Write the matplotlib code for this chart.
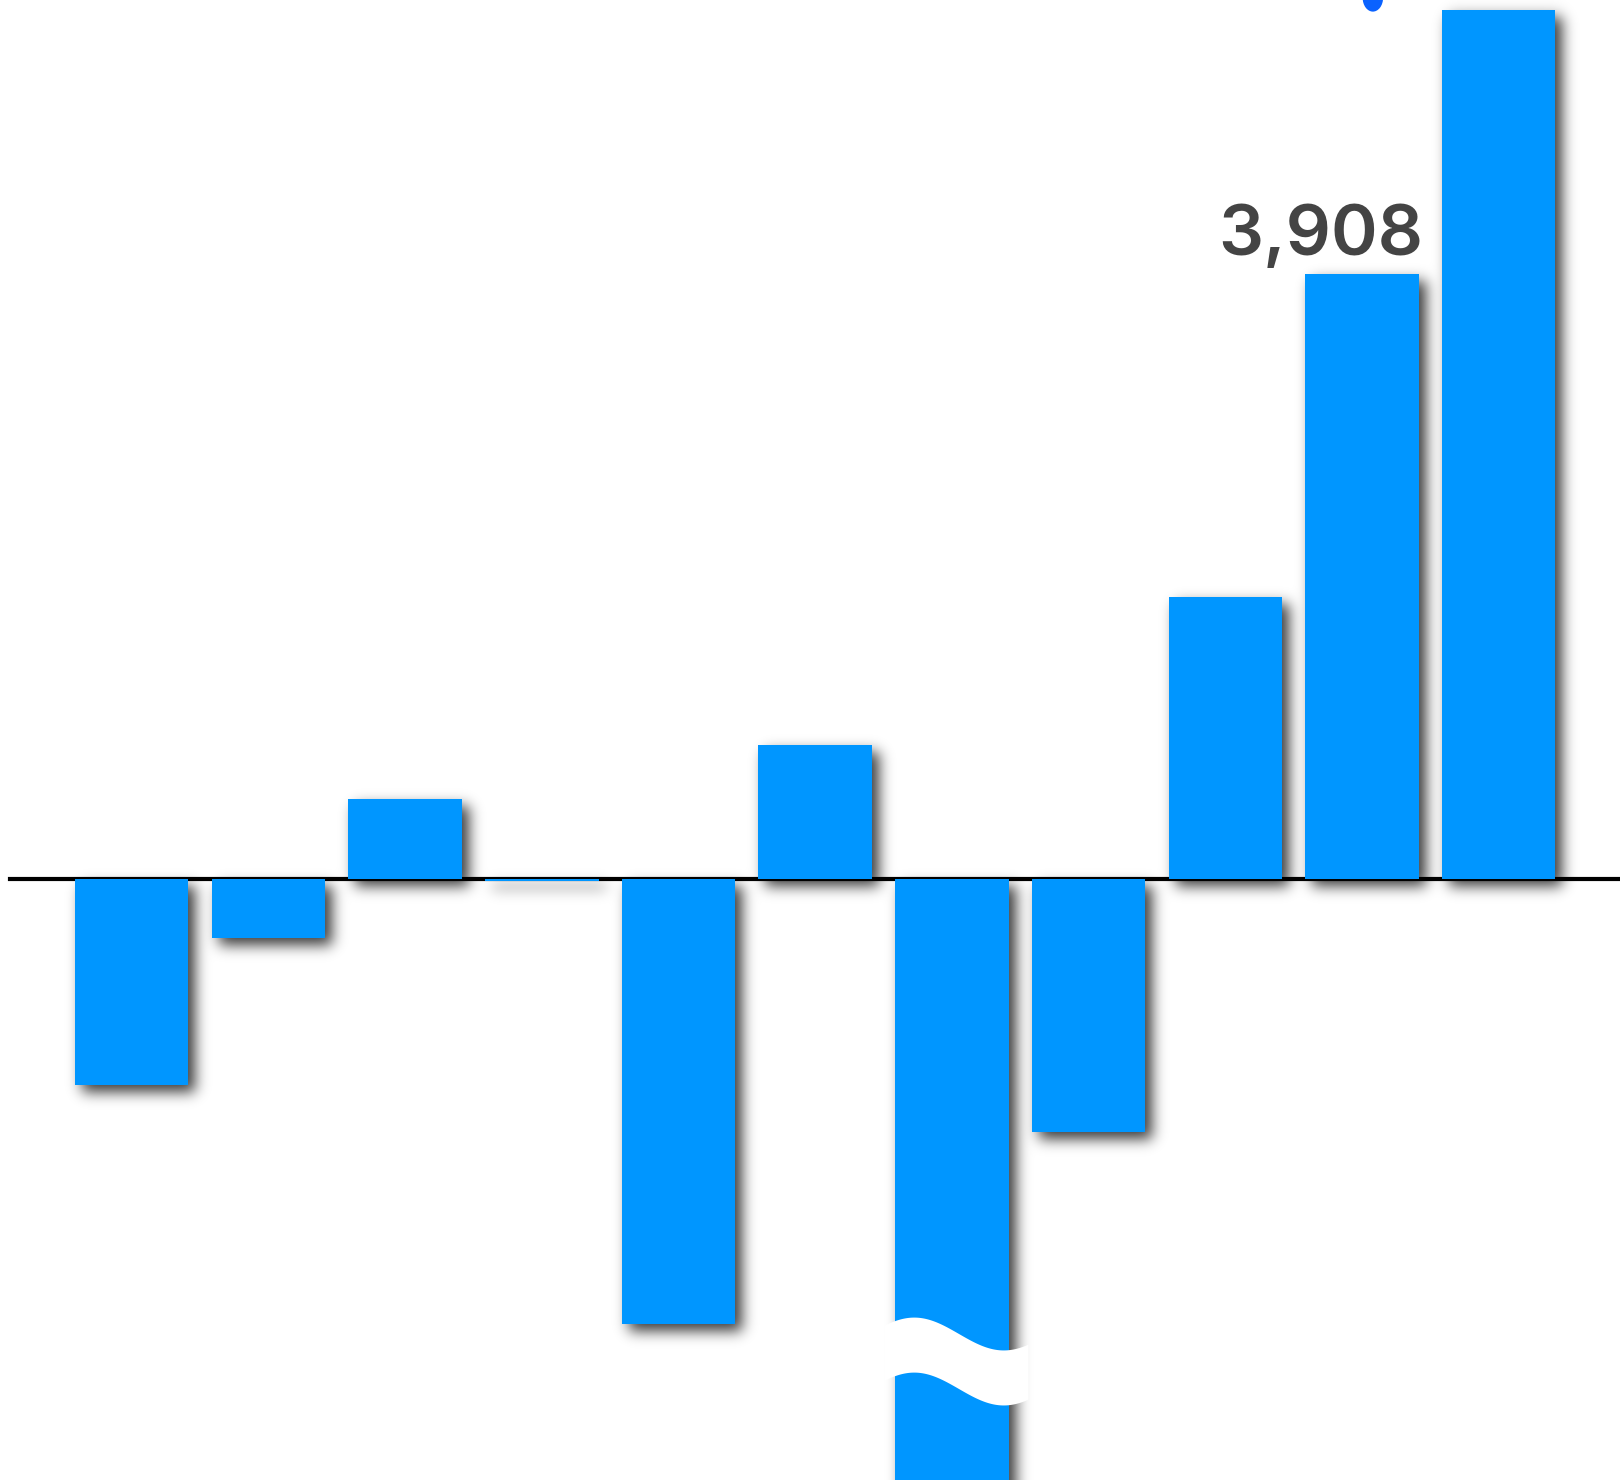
import numpy as np
import matplotlib.pyplot as plt
from matplotlib.patches import Polygon, Ellipse

values = [-1327, -380, 520, -10, -2868, 867, -6000, -1627, 1821, 3908, 5609]
labels = {9: "3,908"}
broken_bar = 6

bar_color = "#0096ff"
label_color = "#444444"

W, H = 1620, 1480
fig = plt.figure(figsize=(W / 100, H / 100), dpi=100)
ax = fig.add_axes([0, 0, 1, 1])
ax.set_axis_off()

x = np.arange(len(values))
width = 0.83

ax.set_xlim(-0.964, 10.888)
ax.set_ylim(-3875, 5675)

bars = ax.bar(x, values, width=width, color=bar_color, zorder=3)

# blurred drop shadow, built in pixel space from the bar rectangles
mask = np.zeros((H, W))
shift = 7  # px right and down
for b in bars:
    (x0, y0), (x1, y1) = ax.transData.transform(
        [(b.get_x(), b.get_y()), (b.get_x() + b.get_width(), b.get_y() + b.get_height())])
    xa, xb = sorted((x0, x1))
    ya, yb = sorted((y0, y1))
    yb = max(yb, ya + 3)  # keep a trace of near-zero bars
    c0, c1 = int(round(xa)) + shift, int(round(xb)) + shift
    r0, r1 = int(round(ya)) - shift, int(round(yb)) - shift
    mask[max(r0, 0):max(r1, 0), max(c0, 0):min(c1, W)] = 1.0

def gauss_matrix(n, sigma):
    i = np.arange(n)
    g = np.exp(-((i[:, None] - i[None, :]) ** 2) / (2 * sigma ** 2))
    return g / g.sum(axis=1, keepdims=True)

sigma = 7
blur = gauss_matrix(H, sigma) @ mask @ gauss_matrix(W, sigma).T
rgba = np.zeros((H, W, 4))
rgba[..., 3] = np.clip(blur, 0, 1) * 0.78
xl, yl = ax.get_xlim(), ax.get_ylim()
ax.imshow(rgba, origin="lower", extent=(xl[0], xl[1], yl[0], yl[1]),
          aspect="auto", zorder=1, interpolation="nearest")
ax.set_xlim(xl)
ax.set_ylim(yl)

# zero line
ax.axhline(0, xmin=0.0064, xmax=1, color="black", lw=3, zorder=2)

# value label
for i, txt in labels.items():
    ax.annotate(txt, xy=(x[i] + width / 2, values[i]), xytext=(5, 19),
                textcoords="offset pixels", ha="right", va="baseline",
                fontsize=51, fontweight="semibold", color=label_color,
                family=["Inter", "DejaVu Sans"], zorder=5)

# wavy white break across the broken bar
xc = x[broken_bar]
dx = np.linspace(-0.494, 0.559, 200)
top = -2933 + 106 * np.cos(np.pi * (dx + 0.275) / 0.655)
bottom = top - 355
pts = np.concatenate([np.column_stack([xc + dx, top]),
                      np.column_stack([xc + dx[::-1], bottom[::-1]])])
ax.add_patch(Polygon(pts, closed=True, facecolor="white", edgecolor="none", zorder=6))

# bit of a blue mark cut by the top edge
ax.add_patch(Ellipse((9.08, 5690), 0.15, 180, facecolor="#0a62ff",
                     edgecolor="none", zorder=6))

fig.savefig("out.png", dpi=100)
